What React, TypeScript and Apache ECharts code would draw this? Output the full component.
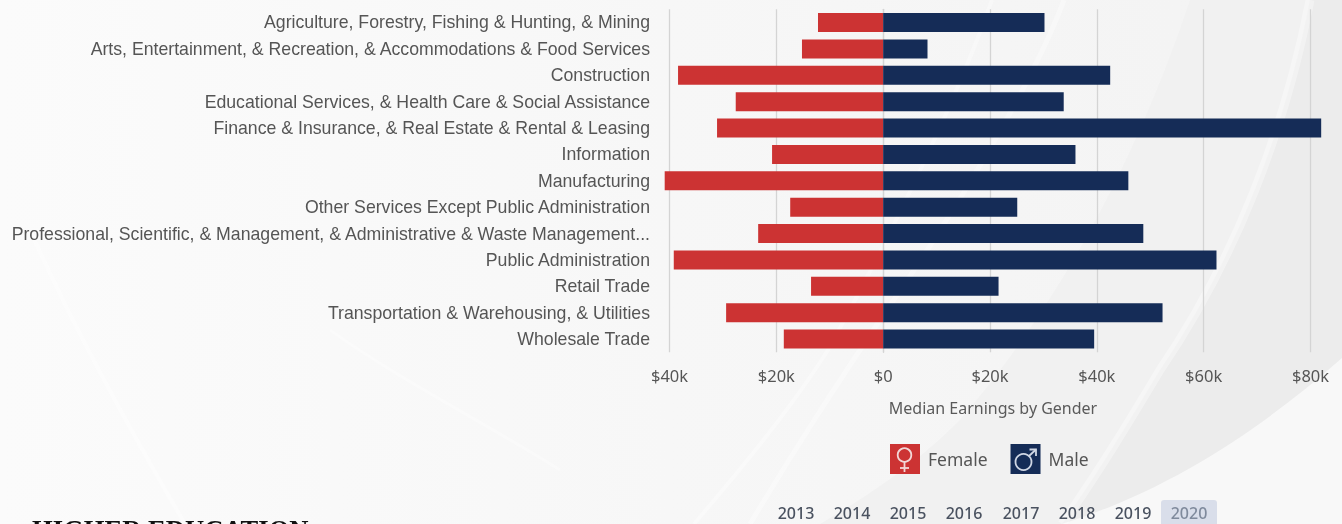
import React, { useEffect, useRef } from "react";
import * as echarts from "echarts";

const categories = [
  "Agriculture, Forestry, Fishing & Hunting, & Mining",
  "Arts, Entertainment, & Recreation, & Accommodations & Food Services",
  "Construction",
  "Educational Services, & Health Care & Social Assistance",
  "Finance & Insurance, & Real Estate & Rental & Leasing",
  "Information",
  "Manufacturing",
  "Other Services Except Public Administration",
  "Professional, Scientific, & Management, & Administrative & Waste Management...",
  "Public Administration",
  "Retail Trade",
  "Transportation & Warehousing, & Utilities",
  "Wholesale Trade",
];
const femaleValues = [-12200, -15200, -38400, -27600, -31100, -20800, -40900, -17400, -23400, -39200, -13500, -29400, -18600];
const maleValues = [30200, 8300, 42500, 33800, 82000, 36000, 45900, 25100, 48700, 62400, 21600, 52300, 39500];
const years = ["2013", "2014", "2015", "2016", "2017", "2018", "2019", "2020"];
const yearX = [796, 852, 908, 964, 1021, 1077, 1133, 1189];

const RED = "#cc3333";
const NAVY = "#152c57";

echarts.graphic.registerShape("bgDark", echarts.graphic.extendPath("M1310 0 C1285 130 1235 260 1160 370 C1130 420 1100 470 1062 524 L1075 524 C1170 490 1260 430 1342 360 L1342 0 Z", {}));
echarts.graphic.registerShape("bgMid", echarts.graphic.extendPath("M1190 0 C1150 120 1080 280 960 420 C910 470 860 500 820 524 L1075 524 C1170 490 1260 430 1342 360 L1342 0 Z", {}));
echarts.graphic.registerShape("bgWhite", echarts.graphic.extendPath("M1342 358 C1260 430 1170 490 1062 524 L1342 524 Z", {}));
echarts.graphic.registerShape("streakA", echarts.graphic.extendPath("M992 0 C960 90 900 220 828 350 C790 410 740 470 694 524", {}));
echarts.graphic.registerShape("streakB", echarts.graphic.extendPath("M1064 0 C1030 90 950 220 880 320 C840 380 800 440 750 524", {}));
echarts.graphic.registerShape("streakC", echarts.graphic.extendPath("M1310 0 C1285 130 1235 260 1160 370 C1130 420 1100 470 1062 524", {}));
echarts.graphic.registerShape("streakD", echarts.graphic.extendPath("M30 230 C70 320 130 430 185 524", {}));
echarts.graphic.registerShape("streakE", echarts.graphic.extendPath("M330 330 C400 380 480 420 560 470", {}));

export default function App() {
  const ref = useRef<HTMLDivElement>(null);
  useEffect(() => {
    document.body.style.margin = "0";
    document.body.style.overflow = "hidden";
    const chart = echarts.init(ref.current!, null, { renderer: "svg" });
    const yearEls: any[] = years.map((y, i) => ({
      type: "text",
      x: yearX[i],
      y: 513,
      z: 5,
      style: {
        text: y,
        fill: i === years.length - 1 ? "#7f8a9c" : "#4a5260",
        font: "500 16px 'Noto Sans'",
        align: "center",
        verticalAlign: "middle",
      },
    }));
    const streak = (type: string, width: number, opacity: number) => ({
      type, z: -7, style: { fill: "none", stroke: "#ffffff", lineWidth: width, opacity },
    });
    chart.setOption({
      animation: false,
      graphic: [
        { type: "rect", z: -10, shape: { x: 0, y: 0, width: 1342, height: 524 },
          style: { fill: new echarts.graphic.LinearGradient(0, 0, 1, 0, [
            { offset: 0, color: "#fbfbfb" }, { offset: 0.5, color: "#f7f7f7" }, { offset: 1, color: "#f3f3f3" } ]) } },
        { type: "bgMid", z: -9, style: { fill: "#f1f1f1" } },
        { type: "bgDark", z: -9, style: { fill: "#ececec" } },
        { type: "bgWhite", z: -8, style: { fill: "#f8f8f8" } },
        streak("streakA", 4, 0.35),
        streak("streakB", 5, 0.35),
        streak("streakC", 9, 0.35),
        streak("streakD", 4, 0.4),
        streak("streakE", 3, 0.3),
        { type: "rect", z: 1, shape: { x: 1161, y: 500, width: 56, height: 26, r: 3 }, style: { fill: "#d9deea" } },
        ...yearEls,
        { type: "text", x: 32, y: 516.5, z: 5, style: { text: "HIGHER EDUCATION", fill: "#111", font: "bold 26.6px 'Liberation Serif'", verticalAlign: "top" } },
        { type: "circle", z: 20, shape: { cx: 904.5, cy: 455, r: 6.8 }, style: { fill: "none", stroke: "#f2d7d7", lineWidth: 1.8 } },
        { type: "line", z: 20, shape: { x1: 904.5, y1: 462, x2: 904.5, y2: 472 }, style: { stroke: "#f2d7d7", lineWidth: 1.8 } },
        { type: "line", z: 20, shape: { x1: 900, y1: 468, x2: 909, y2: 468 }, style: { stroke: "#f2d7d7", lineWidth: 1.8 } },
        { type: "circle", z: 20, shape: { cx: 1023.5, cy: 462, r: 8 }, style: { fill: "none", stroke: "#cfd6e4", lineWidth: 1.8 } },
        { type: "polyline", z: 20, shape: { points: [[1029, 456], [1036, 449.5]] }, style: { stroke: "#cfd6e4", lineWidth: 1.8, fill: "none" } },
        { type: "polyline", z: 20, shape: { points: [[1029.5, 449.5], [1036, 449.5], [1036, 456]] }, style: { stroke: "#cfd6e4", lineWidth: 1.8, fill: "none" } },
      ],
      legend: {
        left: 890,
        top: 444,
        itemWidth: 30,
        itemHeight: 30,
        itemGap: 23,
        icon: "rect",
        padding: 0,
        data: ["Female", "Male"],
        textStyle: { color: "#555", fontSize: 17.5, fontFamily: "'Noto Sans'", padding: [0, 0, 0, 3] },
      },
      grid: { left: 669.5, right: 31.5, top: 9.3, bottom: 171.7 },
      xAxis: {
        type: "value",
        min: -40000,
        max: 80000,
        interval: 20000,
        name: "Median Earnings by Gender",
        nameLocation: "middle",
        nameGap: 48,
        nameTextStyle: { color: "#5a5a5a", fontSize: 16, fontFamily: "'Noto Sans'", padding: [0, 0, 0, 6] },
        axisLine: { show: false },
        axisTick: { show: false },
        axisLabel: {
          show: true,
          color: "#555",
          fontSize: 16.5,
          fontFamily: "'Noto Sans'",
          margin: 15,
          formatter: (v: number) => (v === 0 ? "$0" : `$${Math.abs(v) / 1000}k`),
        },
        splitLine: { show: true, lineStyle: { color: "#d4d4d4", width: 1.3 } },
      },
      yAxis: {
        type: "category",
        inverse: true,
        offset: 12,
        data: categories,
        axisLine: { show: true, lineStyle: { color: "#d4d4d4", width: 1.3 } },
        axisTick: { show: false },
        axisLabel: { color: "#555", fontSize: 17.7, fontFamily: "'Liberation Sans'", margin: 7.5, padding: [0, 0, 1.5, 0] },
      },
      series: [
        { name: "Female", type: "bar", stack: "g", barWidth: 19, clip: false, data: femaleValues, itemStyle: { color: RED } },
        { name: "Male", type: "bar", stack: "g", barWidth: 19, clip: false, data: maleValues, itemStyle: { color: NAVY } },
      ],
    });
    return () => chart.dispose();
  }, []);
  return <div ref={ref} style={{ width: 1342, height: 524, filter: "blur(0.5px)" }} />;
}
